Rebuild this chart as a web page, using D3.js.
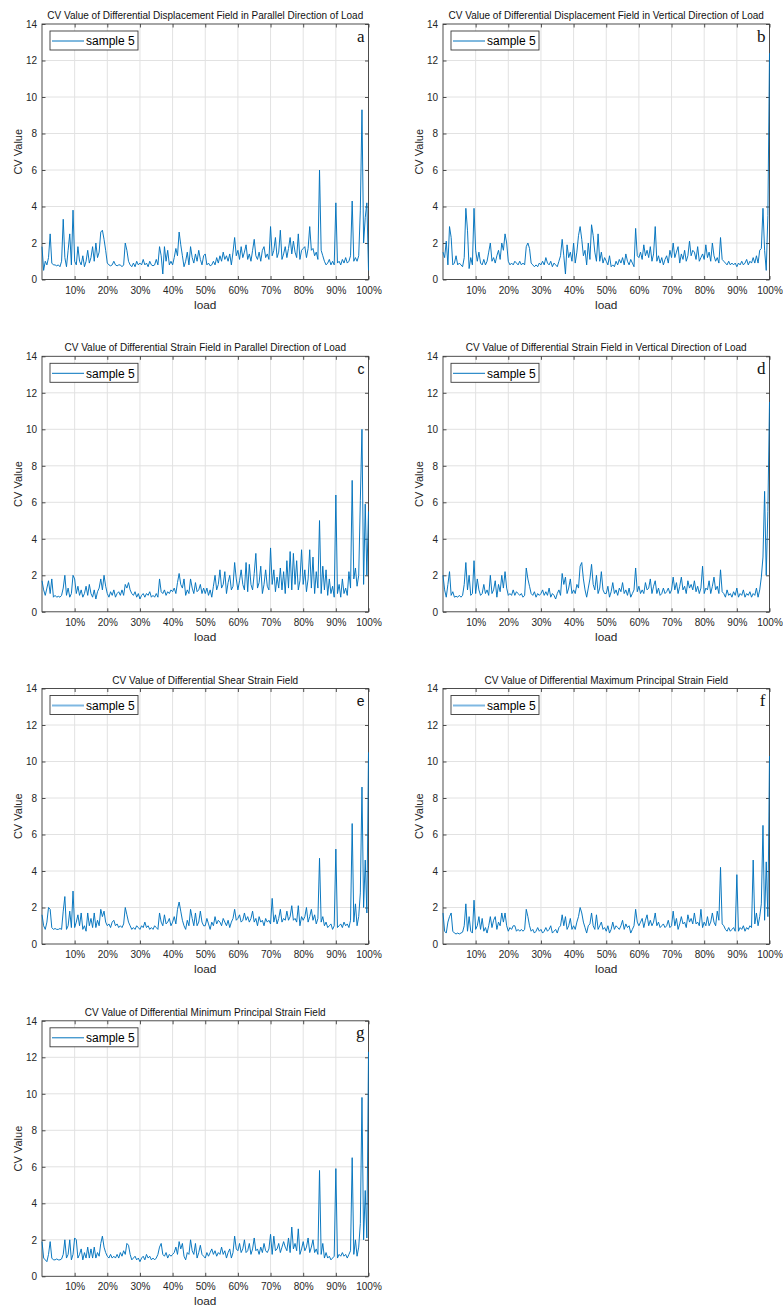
<!DOCTYPE html>
<html><head><meta charset="utf-8">
<script src="https://cdn.jsdelivr.net/npm/d3@7/dist/d3.min.js"></script>
<style>body{margin:0;background:#fff}svg{display:block}</style>
</head><body>
<svg id="chart" width="783" height="1308"></svg>
<script>
// ---- data ----
const xTickValues = [10,20,30,40,50,60,70,80,90,100];
const yTickValues = [0,2,4,6,8,10,12,14];
const loadStep = 0.5; // % load between successive samples
const titles = [
  "CV Value of Differential Displacement Field in Parallel Direction of Load",
  "CV Value of Differential Displacement Field in Vertical Direction of Load",
  "CV Value of Differential Strain Field in Parallel Direction of Load",
  "CV Value of Differential Strain Field in Vertical Direction of Load",
  "CV Value of Differential Shear Strain Field",
  "CV Value of Differential Maximum Principal Strain Field",
  "CV Value of Differential Minimum Principal Strain Field"
];
const letters = ["a","b","c","d","e","f","g"];
const seriesName = "sample 5";

const seriesA = [
1.8,0.5,1.0,0.8,1.2,2.5,0.9,0.8,0.8,0.75,0.8,0.7,1.0,3.3,1.2,0.7,1.6,2.5,0.8,3.8,
1.0,0.8,1.8,1.0,0.8,1.3,0.7,1.0,1.6,0.9,1.2,1.8,1.0,2.0,1.2,1.5,2.6,2.7,2.2,1.6,
0.9,0.8,0.75,0.8,1.0,0.8,0.75,0.8,0.8,0.7,0.8,2.0,1.6,1.0,0.8,0.7,0.9,0.7,1.0,0.8,
0.9,0.8,1.1,0.8,0.9,0.7,1.0,0.8,0.75,0.8,1.1,0.8,1.8,1.3,0.3,1.8,1.0,1.6,0.8,1.0,
0.8,1.2,1.7,1.3,2.6,1.9,1.3,0.7,1.0,1.5,0.8,1.8,1.2,0.9,1.4,1.0,1.6,1.1,0.8,1.3,
1.4,0.8,0.9,0.75,0.8,1.0,0.8,1.2,0.9,1.3,1.0,1.5,1.1,1.3,1.0,1.4,0.8,1.5,2.3,1.3,
1.6,1.1,1.8,1.2,1.5,1.9,1.1,1.4,1.0,1.6,2.2,1.3,1.1,1.5,1.0,1.6,1.8,1.2,1.4,1.1,
2.9,1.3,1.6,2.3,1.2,1.5,2.7,1.1,1.4,1.8,1.2,1.7,2.3,1.4,2.1,1.5,1.2,2.5,1.1,1.6,
1.7,1.8,1.2,1.7,2.9,1.6,1.7,1.3,1.5,1.1,6.0,1.6,1.3,1.0,0.8,0.9,1.1,0.8,1.0,0.8,
4.2,0.9,1.0,0.8,1.1,0.9,1.2,0.9,1.0,1.3,4.3,1.0,1.2,1.0,1.3,3.8,9.3,2.0,3.4,4.2,
0.5];

const seriesB = [
1.5,1.2,2.1,0.8,2.9,2.3,0.8,0.9,1.3,0.8,0.9,0.8,0.7,1.2,3.9,2.7,0.6,1.2,0.8,3.9,
1.6,1.0,1.5,0.9,0.8,1.1,0.8,1.0,1.5,2.0,1.0,1.2,0.9,1.3,1.6,1.1,2.0,1.6,2.5,2.0,
1.0,0.8,0.9,0.8,1.0,0.9,0.8,1.0,0.8,0.9,0.8,1.8,2.0,1.7,0.9,0.8,0.7,0.8,0.7,0.9,
0.8,1.0,0.8,1.2,0.9,0.8,1.0,0.7,0.9,0.8,0.7,1.0,1.3,2.2,1.3,0.3,1.9,1.2,1.5,1.0,
2.0,0.9,1.5,2.4,2.9,2.2,1.3,1.6,0.8,2.0,1.1,3.0,2.4,1.5,1.0,2.5,1.0,1.5,0.9,1.2,
1.0,0.8,1.3,0.7,0.8,0.7,1.0,0.8,1.1,0.9,1.2,0.8,1.4,1.0,0.8,1.1,0.9,0.7,2.8,1.3,
1.2,1.5,1.1,1.9,1.3,1.6,1.2,1.8,1.0,1.4,2.9,1.0,1.3,0.9,1.2,0.8,1.1,1.3,0.9,1.6,
1.2,2.0,1.2,1.5,1.8,0.9,1.4,1.1,1.6,1.0,1.3,2.1,1.3,1.6,1.5,1.1,1.8,1.0,1.2,1.4,
1.1,1.9,1.2,1.5,1.0,2.0,1.3,1.0,1.2,0.9,2.3,1.1,1.0,0.9,0.8,1.0,0.8,0.9,0.8,0.9,
0.7,0.9,0.8,1.0,0.8,0.9,1.1,0.8,1.0,0.9,1.2,0.9,1.3,0.9,1.6,1.7,3.9,1.6,0.5,3.5,
12.4];

const seriesC = [
1.7,1.2,0.9,1.3,1.7,1.0,1.8,0.8,0.9,0.8,0.85,0.8,0.9,1.3,2.0,0.9,1.3,0.8,1.0,2.0,
1.8,1.0,1.4,0.9,1.2,0.8,1.0,1.4,0.9,1.5,1.0,0.8,1.2,0.7,1.1,1.3,1.8,1.2,2.0,1.4,
1.0,0.8,1.1,0.9,1.2,0.8,1.0,1.1,0.9,1.2,0.9,1.5,1.3,1.6,1.2,1.0,0.9,1.1,0.8,1.0,
0.7,0.9,1.0,0.8,1.0,0.9,1.1,0.8,0.9,0.8,1.0,0.8,1.8,1.1,1.0,1.2,0.9,1.1,1.0,1.2,
1.1,1.3,1.0,1.6,2.1,1.5,1.3,1.8,0.9,1.2,1.0,1.8,1.3,1.0,1.6,1.1,1.2,1.5,1.0,1.3,
1.0,1.3,0.9,1.2,0.8,1.4,2.0,1.2,1.5,2.3,1.3,1.5,2.2,1.0,1.6,2.0,1.2,1.4,2.7,1.8,
1.2,1.7,2.3,1.5,1.2,2.7,1.1,2.6,1.5,1.2,2.1,3.2,1.3,1.6,2.5,1.0,1.5,2.3,1.4,1.2,
3.5,1.5,2.3,1.1,1.9,1.3,2.4,1.2,2.2,1.0,2.8,1.3,3.3,1.2,3.2,1.5,2.8,1.2,1.7,3.4,
1.5,2.3,1.1,1.8,3.4,1.3,3.0,1.0,2.2,1.3,5.0,1.0,2.5,1.2,2.3,0.9,1.8,1.0,1.4,0.8,
6.4,1.0,1.5,0.8,1.8,1.0,1.3,0.9,2.2,1.3,7.2,1.8,2.4,1.4,2.0,6.1,10.0,1.5,5.9,2.0,
5.5];

const seriesD = [
2.0,1.2,0.8,1.5,2.2,0.9,1.1,0.8,0.85,0.8,0.9,0.8,0.9,1.5,2.7,1.2,2.0,0.9,1.0,2.8,
1.0,1.8,1.2,0.9,1.0,1.5,1.0,1.2,0.9,2.0,1.0,1.2,1.7,0.8,1.5,1.1,2.0,1.3,2.2,1.3,
0.9,1.0,0.9,1.2,0.9,1.1,1.0,0.9,1.0,0.8,0.9,2.4,1.8,1.4,1.0,0.9,1.1,0.8,1.0,0.9,
1.0,1.2,0.9,1.1,0.9,1.3,0.8,1.0,0.9,0.7,1.0,1.2,0.9,2.1,1.5,1.9,1.0,1.3,1.8,1.0,
1.2,1.0,1.5,1.3,2.5,2.7,1.8,1.2,0.8,1.3,1.8,2.6,1.5,1.2,2.0,1.0,1.3,2.2,1.2,1.0,
1.0,1.4,0.8,1.1,1.6,1.0,1.2,0.9,1.3,1.1,1.6,1.0,1.2,0.9,1.3,0.8,1.0,1.2,2.4,1.1,
1.4,1.0,1.2,1.0,1.6,1.2,1.3,1.8,1.0,1.4,1.7,1.0,1.3,0.9,1.0,1.3,1.0,1.1,1.3,1.0,
1.2,1.9,1.2,1.6,1.0,1.4,1.9,1.2,1.4,1.0,1.7,1.3,1.5,1.2,1.7,1.1,1.4,1.0,1.3,2.5,
1.0,1.3,1.2,1.7,1.0,1.4,1.9,1.2,1.4,1.0,2.3,1.1,1.0,0.8,1.2,0.9,1.0,0.8,1.1,0.9,
1.3,0.8,1.0,0.9,1.2,0.8,1.0,0.9,1.1,0.8,1.0,0.9,1.3,0.8,1.2,1.9,3.0,6.6,2.0,5.5,
11.5];

const seriesE = [
1.6,1.0,0.8,1.2,2.0,1.9,0.9,0.8,0.85,0.8,0.8,0.85,0.8,1.8,2.6,0.8,1.0,1.8,0.9,2.9,
0.9,1.2,1.6,1.0,1.7,0.8,1.0,0.7,1.7,1.0,1.4,0.9,1.7,0.9,1.3,1.0,1.9,1.5,1.8,1.2,
1.0,1.1,0.9,1.2,1.3,1.0,1.1,0.9,1.0,0.9,1.1,2.0,1.6,1.2,1.0,0.8,0.9,0.8,1.0,0.9,
0.8,1.0,0.9,1.2,0.9,1.0,0.8,0.9,0.8,1.0,0.9,0.8,1.7,1.2,1.0,1.6,1.1,1.2,1.4,1.0,
1.2,1.5,1.1,1.9,2.3,1.8,1.3,1.0,0.8,1.3,1.0,1.9,1.4,1.0,1.7,1.0,1.2,1.8,1.2,1.0,
1.0,1.4,1.1,0.8,1.2,1.0,1.5,1.1,1.3,1.2,1.0,1.4,1.2,1.0,1.3,0.9,1.2,1.4,1.9,1.3,
1.4,1.6,1.2,1.3,1.7,1.3,1.5,1.2,1.4,1.8,1.2,1.4,1.0,1.5,1.2,1.3,1.0,1.4,1.2,1.3,
1.1,2.5,1.2,1.6,1.1,1.4,1.9,1.2,1.4,1.3,1.8,1.3,1.5,2.1,1.3,1.4,1.2,2.1,1.0,1.5,
1.3,1.5,2.0,1.2,1.5,1.9,1.3,1.6,1.1,1.4,4.7,1.2,1.5,1.0,1.2,0.9,1.0,1.1,0.8,1.0,
5.2,0.9,1.0,1.1,0.9,1.2,1.0,1.1,0.9,1.3,6.6,1.2,2.2,1.0,1.5,2.8,8.6,2.0,4.6,1.7,
10.5];

const seriesF = [
1.7,0.7,0.6,1.2,1.5,1.7,0.7,0.6,0.55,0.6,0.55,0.6,0.65,1.0,2.2,0.7,1.5,0.7,0.6,2.4,
0.8,1.0,1.5,0.8,1.4,0.7,0.9,0.6,1.0,1.5,0.9,1.3,1.5,0.8,1.2,1.0,1.7,1.2,1.7,1.0,
0.7,0.9,0.8,1.0,1.0,0.7,0.8,0.7,0.8,0.7,0.8,1.9,1.5,1.0,0.7,0.8,0.6,0.7,0.9,0.7,
0.8,0.6,0.7,0.9,0.7,0.8,1.0,0.6,0.7,0.8,0.6,0.9,1.0,1.6,1.0,1.5,0.8,1.0,1.4,0.8,
1.0,0.8,1.2,1.5,2.0,1.7,1.2,0.9,0.6,1.0,1.1,1.7,1.0,0.8,1.6,0.8,1.0,1.2,0.8,0.9,
0.7,1.0,0.6,0.8,1.2,0.8,1.0,0.9,0.8,1.0,1.3,0.8,1.1,0.9,1.0,0.6,0.8,1.0,1.9,1.2,
1.0,1.2,1.4,0.9,1.3,1.6,1.0,1.3,1.0,1.2,1.7,1.0,1.2,0.9,1.0,1.1,0.9,1.0,1.3,0.9,
1.0,1.8,1.0,1.4,0.8,1.1,1.5,1.1,1.2,0.9,1.6,1.2,1.4,1.1,1.7,1.1,1.2,1.0,1.9,0.9,
1.2,1.0,1.5,1.0,1.2,1.7,1.2,1.0,1.8,1.3,4.2,1.1,1.0,0.8,0.7,0.9,0.7,0.8,0.9,0.7,
3.8,0.7,0.9,0.8,1.0,0.7,0.9,0.8,1.0,0.9,4.6,1.1,1.7,1.0,1.5,2.2,6.5,1.3,4.5,1.5,
10.3];

const seriesG = [
1.9,1.0,0.9,0.8,1.2,1.9,1.0,0.9,0.9,0.95,0.9,0.9,0.95,1.2,2.0,1.0,1.2,2.0,0.9,1.2,
2.1,2.0,1.0,1.2,1.5,0.9,1.3,1.0,1.6,1.0,1.5,1.0,1.6,1.0,1.3,1.1,1.8,2.2,1.6,1.3,
1.1,1.0,1.2,1.0,1.1,1.0,1.2,1.0,1.3,1.1,1.4,1.2,1.8,1.7,1.2,0.9,1.0,1.1,0.9,1.0,
0.8,1.0,1.1,0.9,1.2,1.0,1.1,0.9,1.0,0.9,1.0,1.2,1.6,1.8,1.2,1.1,1.3,1.0,1.2,1.1,
1.2,1.3,1.6,1.2,1.9,1.5,1.8,1.1,0.9,1.3,1.2,2.0,1.4,1.2,1.8,1.0,1.3,1.7,1.2,1.1,
1.0,1.3,1.1,1.3,1.5,1.2,1.4,1.1,1.3,1.2,1.6,1.2,1.4,1.0,1.3,1.5,1.0,1.3,2.2,1.5,
1.4,1.8,1.3,1.5,2.0,1.3,1.4,1.8,1.2,1.5,2.1,1.4,1.5,1.2,1.6,1.3,1.8,1.4,1.3,1.5,
2.3,1.2,2.2,1.4,1.5,1.8,1.3,1.6,1.9,1.6,1.4,2.1,1.3,2.7,1.5,1.8,1.4,2.6,1.2,1.5,
1.9,1.4,1.6,2.1,1.3,1.6,2.0,1.3,1.5,1.2,5.8,1.2,1.8,1.0,1.3,1.0,1.1,0.9,1.0,1.1,
5.9,1.0,1.2,1.1,1.3,1.1,1.2,1.0,1.2,1.4,6.5,1.2,2.0,1.1,1.6,2.9,9.8,2.0,4.7,2.1,
12.3];

const allSeries = [seriesA, seriesB, seriesC, seriesD, seriesE, seriesF, seriesG];

// ---- layout / style ----
const colX = [42, 443];
const rowY = [24, 356.3, 688.5, 1020.8];
const W = 326.5, H = 255.5;
const lineColor = "#0072BD";
const serifLetters = {a:1,b:1,d:1,f:1,g:1};
const lightLegend = {e:1, f:1};

const svg = d3.select("#chart");
const x = d3.scaleLinear().domain([0, 100]).range([0, W]);
const y = d3.scaleLinear().domain([0, 14]).range([H, 0]);

let titleSize = 9.6;
{
  const t = svg.append("text").attr("font-family","Arial, 'Liberation Sans', sans-serif")
    .attr("font-size",10).text(titles[0]);
  const w = t.node().getComputedTextLength();
  t.remove();
  if (w > 0) titleSize = 10 * 316 / w;
}

allSeries.forEach((data, k) => {
  const g = svg.append("g").attr("transform", `translate(${colX[k % 2]},${rowY[Math.floor(k / 2)]})`);
  const letter = letters[k];
  const fontAx = "Arial, 'Liberation Sans', sans-serif";

  // grid
  g.append("g").selectAll("line").data(xTickValues.filter(v => v < 100)).join("line")
    .attr("x1", d => x(d)).attr("x2", d => x(d)).attr("y1", 0).attr("y2", H)
    .attr("stroke", "#e2e2e2").attr("stroke-width", 1);
  g.append("g").selectAll("line").data(yTickValues.filter(v => v > 0 && v < 14)).join("line")
    .attr("y1", d => y(d)).attr("y2", d => y(d)).attr("x1", 0).attr("x2", W)
    .attr("stroke", "#e2e2e2").attr("stroke-width", 1);

  // axes
  const bottom = g.append("g").attr("transform", `translate(0,${H})`)
    .call(d3.axisBottom(x).tickValues(xTickValues).tickFormat(d => d + "%").tickSize(-3.5).tickSizeOuter(0).tickPadding(7));
  const left = g.append("g")
    .call(d3.axisLeft(y).tickValues(yTickValues).tickSize(-3.5).tickSizeOuter(0).tickPadding(5));
  const top = g.append("g")
    .call(d3.axisTop(x).tickValues(xTickValues).tickFormat("").tickSize(-3.5).tickSizeOuter(0));
  const right = g.append("g").attr("transform", `translate(${W},0)`)
    .call(d3.axisRight(y).tickValues(yTickValues).tickFormat("").tickSize(-3.5).tickSizeOuter(0));
  [bottom, left, top, right].forEach(a => {
    a.select(".domain").remove();
    a.selectAll("line").attr("stroke", "#262626").attr("stroke-width", 0.8);
    a.selectAll("text").attr("font-family", fontAx).attr("font-size", 10).attr("fill", "#262626");
  });

  // box
  g.append("rect").attr("width", W).attr("height", H).attr("fill", "none")
    .attr("stroke", "#3a3a3a").attr("stroke-width", 0.9);

  // data line (drawn above the box so edge spikes stay visible)
  const line = d3.line().x((d, i) => x(i * loadStep)).y(d => y(d));
  g.append("path").datum(data)
    .attr("d", line).attr("fill", "none").attr("stroke", lineColor)
    .attr("stroke-width", 0.95).attr("stroke-linejoin", "round");

  // title
  g.append("text").attr("x", W / 2).attr("y", -5).attr("text-anchor", "middle")
    .attr("font-family", fontAx).attr("font-size", titleSize).attr("fill", "#111")
    .text(titles[k]);

  // axis labels
  g.append("text").attr("x", W / 2).attr("y", H + 29).attr("text-anchor", "middle")
    .attr("font-family", fontAx).attr("font-size", 11.8).attr("fill", "#262626").text("load");
  g.append("text").attr("transform", `translate(-20.5,${H / 2}) rotate(-90)`).attr("text-anchor", "middle")
    .attr("font-family", fontAx).attr("font-size", 11).attr("fill", "#262626").text("CV Value");

  // legend
  const lg = g.append("g").attr("transform", "translate(8,7)");
  lg.append("rect").attr("width", 88).attr("height", 19).attr("fill", "#fff")
    .attr("stroke", "#3a3a3a").attr("stroke-width", 0.9);
  lg.append("line").attr("x1", 2).attr("x2", 34).attr("y1", 10).attr("y2", 10)
    .attr("stroke", lightLegend[letter] ? "#7fb8e2" : lineColor)
    .attr("stroke-width", lightLegend[letter] ? 2 : 1);
  lg.append("text").attr("x", 36).attr("y", 14.3).attr("font-family", fontAx)
    .attr("font-size", 12).attr("fill", "#000").text(seriesName);

  // panel letter
  g.append("text").attr("x", W - 4).attr("y", 17.5).attr("text-anchor", "end")
    .attr("font-family", serifLetters[letter] ? "'Liberation Serif','Times New Roman',serif" : fontAx)
    .attr("font-size", serifLetters[letter] ? 17 : 14).attr("fill", "#111").text(letter);
});
</script>
</body></html>
